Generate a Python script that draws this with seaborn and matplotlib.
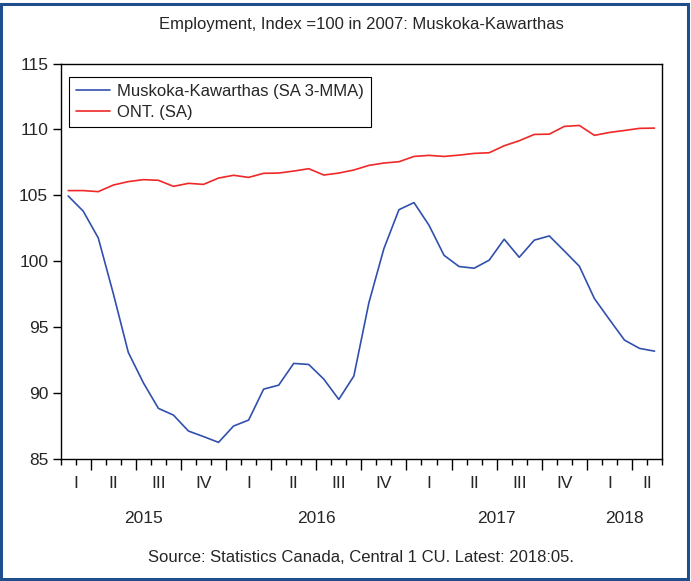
import numpy as np
import pandas as pd
import matplotlib
matplotlib.use("Agg")
import matplotlib.pyplot as plt
import matplotlib.transforms as mtransforms
from matplotlib.patches import Rectangle
import seaborn as sns

# monthly data, Feb 2015 .. May 2018
months = pd.period_range("2015-02", "2018-05", freq="M").strftime("%Y-%m").tolist()

muskoka = [104.95, 103.8, 101.77, 97.55, 93.08, 90.78, 88.84, 88.33, 87.12, 86.7,
           86.26, 87.5, 87.95, 90.3, 90.6, 92.25, 92.17, 91.06, 89.52, 91.29,
           96.85, 100.96, 103.91, 104.45, 102.73, 100.45, 99.6, 99.47, 100.08, 101.67,
           100.3, 101.6, 101.92, 100.78, 99.62, 97.17, 95.58, 94.02, 93.39, 93.18]

ontario = [105.36, 105.36, 105.28, 105.78, 106.04, 106.19, 106.14, 105.68, 105.91, 105.83,
           106.31, 106.52, 106.36, 106.67, 106.69, 106.84, 107.02, 106.54, 106.69, 106.92,
           107.27, 107.45, 107.55, 107.95, 108.03, 107.95, 108.05, 108.18, 108.23, 108.76,
           109.14, 109.62, 109.64, 110.23, 110.3, 109.55, 109.77, 109.92, 110.08, 110.1]

series_names = ["Muskoka-Kawarthas (SA 3-MMA)", "ONT. (SA)"]
quarter_names = ["I", "II", "III", "IV"]
y_ticks = [85, 90, 95, 100, 105, 110, 115]

df = pd.DataFrame({"month": months, "muskoka": muskoka, "ontario": ontario})
df["pos"] = np.arange(len(df)) + 0.5
per = pd.PeriodIndex(df["month"], freq="M")
df["year"] = per.year
df["q"] = per.quarter

sns.set_style("ticks")
plt.rcParams["font.family"] = ["Liberation Sans", "DejaVu Sans"]

fig = plt.figure(figsize=(6.91, 5.81), dpi=100)
ax = fig.add_axes([0.0878, 0.21, 0.8703, 0.6807])

sns.lineplot(data=df, x="pos", y="muskoka", color="#3150ad", linewidth=1.2,
             label=series_names[0], ax=ax)
sns.lineplot(data=df, x="pos", y="ontario", color="#f02828", linewidth=1.2,
             label=series_names[1], ax=ax)

ax.set_xlim(0, len(df))
ax.set_ylim(85, 115)
ax.set_yticks(y_ticks)
ax.set_yticklabels([str(v) for v in y_ticks], fontsize=12.5)
ax.set_xlabel("")
ax.set_ylabel("")

# month ticks (minor) and quarter-start ticks (major)
qstart = [i for i in range(len(df)) if per[i].month in (1, 4, 7, 10)]
ax.set_xticks(qstart)
ax.set_xticklabels([])
ax.set_xticks(np.arange(len(df) + 1), minor=True)
ax.tick_params(axis="x", which="major", length=8, width=1, color="black",
               direction="out", bottom=True, top=False)
ax.tick_params(axis="x", which="minor", length=4, width=1, color="black",
               direction="out", bottom=True, top=False)
ax.tick_params(axis="y", which="major", length=6, width=1, color="black",
               direction="out", pad=3, left=True, right=False)
ax.tick_params(axis="y", which="minor", left=False)
for s in ax.spines.values():
    s.set_visible(True)
    s.set_color("black")
    s.set_linewidth(1.0)

# quarter and year labels under the axis
trans = mtransforms.blended_transform_factory(ax.transData, ax.transAxes)
for (yr, q), g in df.groupby(["year", "q"]):
    lo = g["pos"].min() - 0.5
    hi = g["pos"].max() + 0.5
    ax.text((lo + hi) / 2, -0.062, quarter_names[q - 1], transform=trans,
            ha="center", va="center", fontsize=12.5)
for yr, g in df.groupby("year"):
    lo = g["pos"].min() - 0.5
    hi = g["pos"].max() + 0.5
    ax.text((lo + hi) / 2, -0.15, str(yr), transform=trans,
            ha="center", va="center", fontsize=12.5)

leg = ax.legend(loc="upper left", bbox_to_anchor=(0.0143, 0.9666), borderaxespad=0,
                fontsize=12, frameon=True, fancybox=False, framealpha=1,
                edgecolor="black", handlelength=2.0, handletextpad=0.45,
                borderpad=0.42, labelspacing=0.38)
leg.get_frame().set_linewidth(0.8)

fig.text(0.523, 0.957, "Employment, Index =100 in 2007: Muskoka-Kawarthas",
         ha="center", va="center", fontsize=12)
fig.text(0.523, 0.041, "Source: Statistics Canada, Central 1 CU. Latest: 2018:05.",
         ha="center", va="center", fontsize=12)

fig.patches.append(Rectangle((0.002, 0.003), 0.994, 0.99, transform=fig.transFigure,
                             fill=False, edgecolor="#1f4e8c", linewidth=2.2))

fig.savefig("out.png", dpi=100)
